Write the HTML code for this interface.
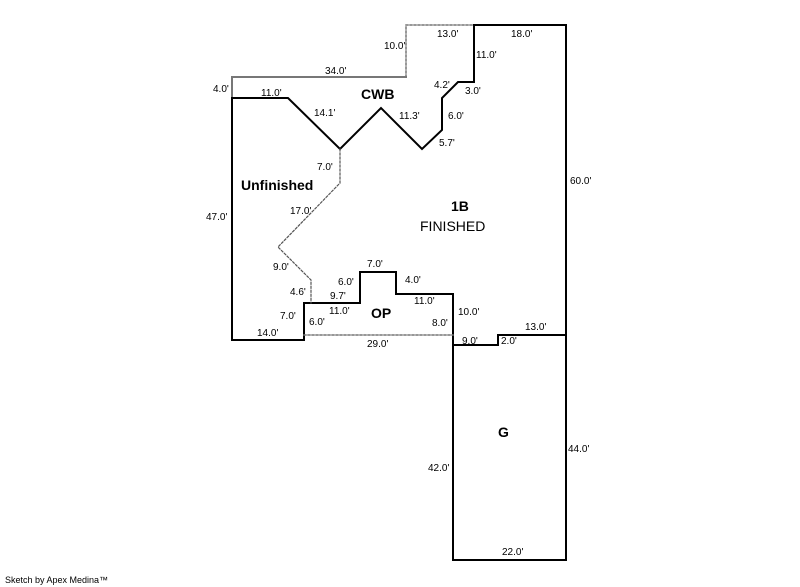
<!DOCTYPE html>
<html><head><style>
html,body{margin:0;padding:0;background:#fff;}
svg{display:block;}
text{font-family:"Liberation Sans",Arial,sans-serif;font-size:10px;fill:#000;}
.b{font-size:14px;font-weight:bold;}
.n{font-size:14px;}
</style></head><body>
<svg width="800" height="587" viewBox="0 0 800 587">
<g fill="none" stroke-linecap="square">
<polyline points="232,98 232,77 406,77" stroke="#777" stroke-width="2"/>
<polyline points="406,77 406,25 474,25" stroke="#777" stroke-width="1.5" stroke-dasharray="2,2"/>
<polyline points="474,25 566,25 566,560 453,560 453,345" stroke="#000" stroke-width="2"/>
<polyline points="474,25 474,82 458,82 442,98 442,130 422,149 381,108 340,149 288,98 232,98 232,340 304,340 304,303 360,303 360,272 396,272 396,294 453,294 453,345 498,345 498,335 566,335" stroke="#000" stroke-width="2"/>
<polyline points="340,149 340,183 278,247 311,280 311,303" stroke="#555" stroke-width="1.2" stroke-dasharray="2,2"/>
<line x1="304" y1="335" x2="453" y2="335" stroke="#777" stroke-width="1.5" stroke-dasharray="2,2"/>
</g>
<text x="384" y="49">10.0'</text>
<text x="437" y="37">13.0'</text>
<text x="511" y="37">18.0'</text>
<text x="476" y="58">11.0'</text>
<text x="325" y="74">34.0'</text>
<text x="213" y="92">4.0'</text>
<text x="261" y="96">11.0'</text>
<text x="434" y="88">4.2'</text>
<text x="465" y="94">3.0'</text>
<text x="314" y="116">14.1'</text>
<text x="399" y="119">11.3'</text>
<text x="448" y="119">6.0'</text>
<text x="439" y="146">5.7'</text>
<text x="317" y="170">7.0'</text>
<text x="290" y="214">17.0'</text>
<text x="570" y="184">60.0'</text>
<text x="206" y="220">47.0'</text>
<text x="273" y="270">9.0'</text>
<text x="367" y="267">7.0'</text>
<text x="338" y="285">6.0'</text>
<text x="405" y="283">4.0'</text>
<text x="290" y="295">4.6'</text>
<text x="330" y="299">9.7'</text>
<text x="414" y="304">11.0'</text>
<text x="329" y="314">11.0'</text>
<text x="458" y="315">10.0'</text>
<text x="280" y="319">7.0'</text>
<text x="309" y="325">6.0'</text>
<text x="432" y="326">8.0'</text>
<text x="257" y="336">14.0'</text>
<text x="525" y="330">13.0'</text>
<text x="367" y="347">29.0'</text>
<text x="462" y="344">9.0'</text>
<text x="501" y="344">2.0'</text>
<text x="428" y="471">42.0'</text>
<text x="568" y="452">44.0'</text>
<text x="502" y="555">22.0'</text>
<text class="b" x="361" y="99">CWB</text>
<text class="b" x="241" y="190">Unfinished</text>
<text class="b" x="451" y="211">1B</text>
<text class="n" x="420" y="231">FINISHED</text>
<text class="b" x="371" y="318">OP</text>
<text class="b" x="498" y="437">G</text>
<text x="5" y="583" style="font-size:9px">Sketch by Apex Medina™</text>
</svg>
</body></html>
